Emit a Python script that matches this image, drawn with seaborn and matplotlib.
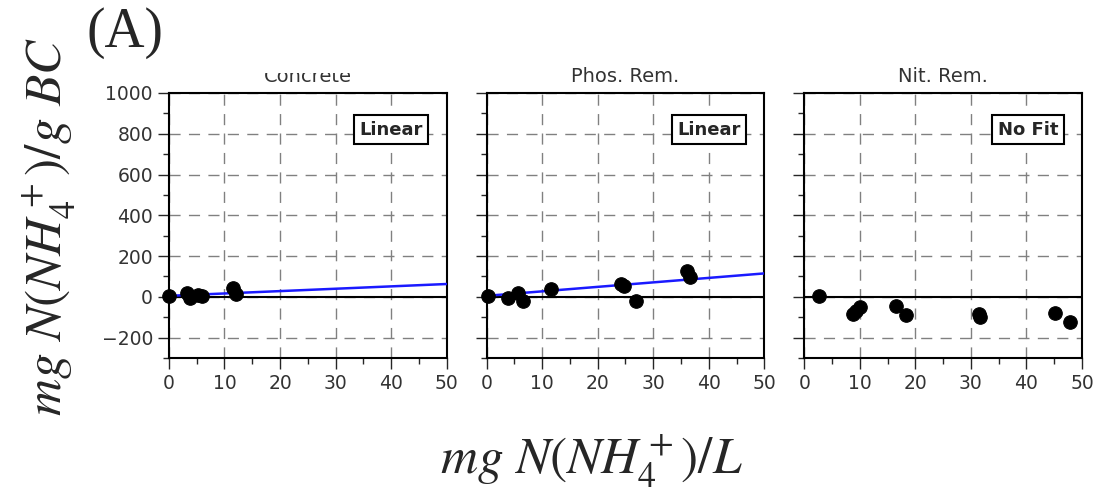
import numpy as np
import pandas as pd
import seaborn as sns
import matplotlib.pyplot as plt
from matplotlib.patches import Rectangle
from matplotlib.ticker import MultipleLocator

# panel titles and fit labels
panels = ['Concrete', 'Phos. Rem.', 'Nit. Rem.']
fit_labels = ['Linear', 'Linear', 'No Fit']

concrete_x = [0.0, 3.2, 3.8, 5.3, 5.9, 11.5, 12.1]
concrete_y = [2, 18, -7, 10, 2, 43, 15]
phos_x = [0.3, 3.9, 5.7, 6.6, 11.6, 24.2, 24.8, 26.9, 36.0, 36.7]
phos_y = [5, -7, 18, -18, 38, 65, 52, -18, 127, 98]
nit_x = [2.6, 8.8, 9.3, 10.1, 16.6, 18.4, 31.4, 31.6, 45.2, 47.9]
nit_y = [5, -82, -70, -50, -45, -90, -82, -98, -77, -123]

# linear fit parameters (intercept, slope); None = no fit
fit_params = [(5, 1.16), (5, 2.2), None]

xs = [concrete_x, phos_x, nit_x]
ys = [concrete_y, phos_y, nit_y]

sns.set_style('white')
plt.rcParams['mathtext.fontset'] = 'stix'

fig, axes = plt.subplots(1, 3, figsize=(11, 4.93), dpi=100, sharey=True)
fig.subplots_adjust(left=0.1536, right=0.9836, top=0.8114, bottom=0.2738, wspace=0.144)

for i, ax in enumerate(axes):
    df = pd.DataFrame({'x': xs[i], 'y': ys[i]})
    ax.grid(True, color='#808080', linestyle=(0, (8, 6)), linewidth=1)
    ax.axhline(0, color='black', linewidth=1.5, zorder=2)
    if fit_params[i] is not None:
        b, m = fit_params[i]
        line_x = np.array([0, 50])
        sns.lineplot(x=line_x, y=b + m * line_x, ax=ax, color='#1a1aff', linewidth=1.8, zorder=3)
    sns.scatterplot(data=df, x='x', y='y', ax=ax, color='black', edgecolor='black',
                    s=95, zorder=4, clip_on=False)
    ax.set_xlim(0, 50)
    ax.set_ylim(-300, 1000)
    ax.xaxis.set_major_locator(MultipleLocator(10))
    ax.xaxis.set_minor_locator(MultipleLocator(5))
    ax.yaxis.set_major_locator(MultipleLocator(200))
    ax.yaxis.set_minor_locator(MultipleLocator(100))
    ax.tick_params(which='major', direction='out', length=8, width=1, labelsize=13.5,
                   labelcolor='#333333', left=True, bottom=True)
    ax.tick_params(which='minor', direction='out', length=4, width=1, left=True, bottom=True)
    for sp in ax.spines.values():
        sp.set_color('black')
        sp.set_linewidth(1.5)
    ax.set_xlabel('')
    ax.set_ylabel('')
    ax.set_title(panels[i], fontsize=14, color='#333333', pad=8)
    ax.text(0.915, 0.862, fit_labels[i], transform=ax.transAxes, ha='right', va='center',
            fontsize=13, fontweight='bold',
            bbox=dict(boxstyle='square,pad=0.3', facecolor='white', edgecolor='black', linewidth=1.5),
            zorder=5)

# top of the first panel title is hidden in the original
fig.add_artist(Rectangle((0.18, 0.852), 0.22, 0.148, transform=fig.transFigure,
                         facecolor='white', edgecolor='none', zorder=10))

fig.text(0.114, 0.985, '(A)', fontsize=40, family='Liberation Serif', ha='center', va='top', zorder=11)
fig.text(0.045, 0.54, r'$mg\ N(NH_4^+)/g\ BC$', fontsize=37, rotation=90, ha='center', va='center')
fig.text(0.538, 0.062, r'$mg\ N(NH_4^+)/L$', fontsize=37, ha='center', va='center')

fig.savefig('out.png', dpi=100)
